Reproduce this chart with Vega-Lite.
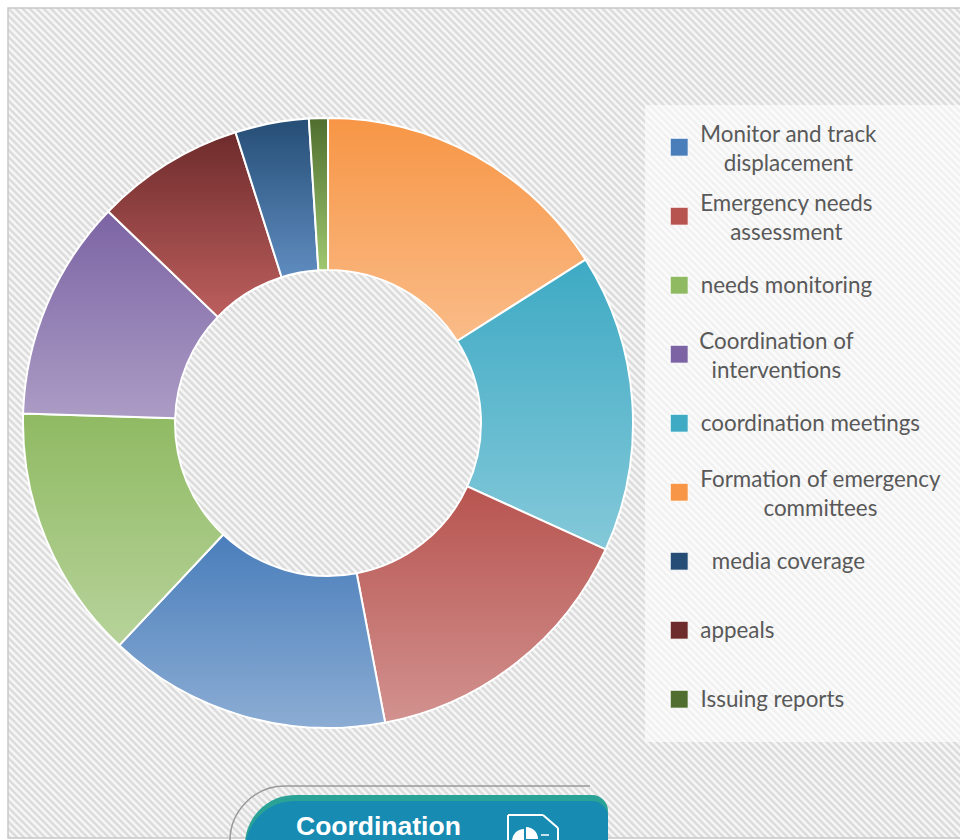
{
"$schema":"https://vega.github.io/schema/vega-lite/v6.json",
"width":960,"height":840,"padding":0,"autosize":"none","background":"#ffffff",
"config":{"view":{"stroke":null},"axis":{"disable":true}},
"data":{"values":[
{"activity":"Formation of emergency committees","share":16.0,"rank":1},
{"activity":"coordination meetings","share":15.8,"rank":2},
{"activity":"Emergency needs assessment","share":15.2,"rank":3},
{"activity":"Monitor and track displacement","share":15.0,"rank":4},
{"activity":"needs monitoring","share":13.5,"rank":5},
{"activity":"Coordination of interventions","share":11.7,"rank":6},
{"activity":"appeals","share":7.9,"rank":7},
{"activity":"media coverage","share":3.9,"rank":8},
{"activity":"Issuing reports","share":1.0,"rank":9}
]},
"layer":[
{"data":{"values":[{}]},"mark":{"type":"rect","fill":"#f6f6f6"},"encoding":{"x":{"datum":8,"type":"quantitative","scale":{"domain":[0,960]}},"x2":{"datum":960},"y":{"datum":8,"type":"quantitative","scale":{"domain":[840,0]}},"y2":{"datum":838}}},
{"data":{"values":[{}]},"mark":{"type":"rule","clip":true,"stroke":"#dcdcdc","strokeWidth":1400,"strokeDash":[2.5,2.5]},"encoding":{"x":{"datum":0,"type":"quantitative","scale":{"domain":[0,960]}},"x2":{"datum":960},"y":{"datum":900,"type":"quantitative","scale":{"domain":[840,0]}},"y2":{"datum":-60}}},
{"data":{"values":[{}]},"mark":{"type":"rect","fill":"#ffffff"},"encoding":{"x":{"datum":0,"type":"quantitative","scale":{"domain":[0,960]}},"x2":{"datum":8},"y":{"datum":0,"type":"quantitative","scale":{"domain":[840,0]}},"y2":{"datum":840}}},
{"data":{"values":[{}]},"mark":{"type":"rect","fill":"#ffffff"},"encoding":{"x":{"datum":0,"type":"quantitative","scale":{"domain":[0,960]}},"x2":{"datum":960},"y":{"datum":0,"type":"quantitative","scale":{"domain":[840,0]}},"y2":{"datum":8}}},
{"data":{"values":[{}]},"mark":{"type":"rect","fill":"#ffffff"},"encoding":{"x":{"datum":0,"type":"quantitative","scale":{"domain":[0,960]}},"x2":{"datum":960},"y":{"datum":838,"type":"quantitative","scale":{"domain":[840,0]}},"y2":{"datum":840}}},
{"data":{"values":[{}]},"mark":{"type":"rect","fill":null,"stroke":"#c8c8c8","strokeWidth":1.5},"encoding":{"x":{"datum":8,"type":"quantitative","scale":{"domain":[0,960]}},"x2":{"datum":962},"y":{"datum":8,"type":"quantitative","scale":{"domain":[840,0]}},"y2":{"datum":838}}},
{"data":{"values":[{}]},"mark":{"type":"rect","fill":"#ffffff","opacity":0.6},"encoding":{"x":{"datum":645,"type":"quantitative","scale":{"domain":[0,960]}},"x2":{"datum":960},"y":{"datum":105,"type":"quantitative","scale":{"domain":[840,0]}},"y2":{"datum":742}}},
{"mark":{"type":"arc","radius":305,"radius2":153,"stroke":"#ffffff","strokeWidth":2},
"encoding":{
"x":{"datum":328,"type":"quantitative","scale":{"domain":[0,960]}},
"y":{"datum":423,"type":"quantitative","scale":{"domain":[840,0]}},
"theta":{"field":"share","type":"quantitative","stack":true},
"order":{"field":"rank","type":"quantitative"},
"fill":{"field":"activity","type":"nominal","scale":{
"domain":["Monitor and track displacement","Emergency needs assessment","needs monitoring","Coordination of interventions","coordination meetings","Formation of emergency committees","media coverage","appeals","Issuing reports"],
"range":["#4a7ebb","#b85450","#8fba62","#7c64a4","#3eaac4","#f79646","#254d75","#6e2b2b","#4f6e2f"]},
"legend":{"title":null,"orient":"none","legendX":668,"legendY":136,"columns":1,"gridAlign":"all","rowPadding":17,"symbolType":"square","symbolSize":324,"symbolStrokeColor":"#ffffff","symbolStrokeWidth":1,"labelFont":"Lato","labelFontSize":22.4,"labelColor":"#595959","labelOffset":10,"labelLimit":400,"labelAlign":"center",
"labelExpr":"{'Monitor and track displacement':['Monitor and track','displacement'],'Emergency needs assessment':['Emergency needs','assessment'],'Coordination of interventions':['Coordination of','interventions'],'Formation of emergency committees':['Formation of emergency','committees']}[datum.label] || datum.label",
"encode":{
"labels":{"update":{"lineHeight":{"value":29},
"dx":{"signal":"{'Monitor and track displacement':88,'Emergency needs assessment':86,'needs monitoring':86,'Coordination of interventions':76,'coordination meetings':110,'Formation of emergency committees':120,'media coverage':88,'appeals':37,'Issuing reports':72}[datum.value]"},
"dy":{"signal":"indexof(['Monitor and track displacement','Emergency needs assessment','Coordination of interventions','Formation of emergency committees'],datum.value)>=0?-12:1"}}}
}}}
}},
{"mark":{"type":"arc","radius":304,"radius2":154,"fill":{"gradient":"linear","x1":0,"y1":0,"x2":0,"y2":1,"stops":[{"offset":0,"color":"rgba(255,255,255,0)"},{"offset":1,"color":"rgba(255,255,255,0.36)"}]}},
"encoding":{
"x":{"datum":328,"type":"quantitative","scale":{"domain":[0,960]}},
"y":{"datum":423,"type":"quantitative","scale":{"domain":[840,0]}},
"theta":{"field":"share","type":"quantitative","stack":true},
"order":{"field":"rank","type":"quantitative"}}},
{"transform":[{"stack":"share","sort":[{"field":"rank"}],"as":["s0","s1"]},{"filter":"datum.rank==7"}],
"mark":{"type":"arc","radius":305,"radius2":153,"stroke":"#ffffff","strokeWidth":2,"fill":{"gradient":"linear","x1":0,"y1":0,"x2":0,"y2":1,"stops":[{"offset":0,"color":"#6e2b2b"},{"offset":1,"color":"#bc5f5e"}]}},
"encoding":{"x":{"datum":328,"type":"quantitative","scale":{"domain":[0,960]}},"y":{"datum":423,"type":"quantitative","scale":{"domain":[840,0]}},"theta":{"field":"s0","type":"quantitative","stack":null},"theta2":{"field":"s1"}}},
{"transform":[{"stack":"share","sort":[{"field":"rank"}],"as":["s0","s1"]},{"filter":"datum.rank==8"}],
"mark":{"type":"arc","radius":305,"radius2":153,"stroke":"#ffffff","strokeWidth":2,"fill":{"gradient":"linear","x1":0,"y1":0,"x2":0,"y2":1,"stops":[{"offset":0,"color":"#254d75"},{"offset":1,"color":"#5f8cc0"}]}},
"encoding":{"x":{"datum":328,"type":"quantitative","scale":{"domain":[0,960]}},"y":{"datum":423,"type":"quantitative","scale":{"domain":[840,0]}},"theta":{"field":"s0","type":"quantitative","stack":null},"theta2":{"field":"s1"}}},
{"transform":[{"stack":"share","sort":[{"field":"rank"}],"as":["s0","s1"]},{"filter":"datum.rank==9"}],
"mark":{"type":"arc","radius":305,"radius2":153,"stroke":"#ffffff","strokeWidth":2,"fill":{"gradient":"linear","x1":0,"y1":0,"x2":0,"y2":1,"stops":[{"offset":0,"color":"#4f6e2f"},{"offset":1,"color":"#9fc870"}]}},
"encoding":{"x":{"datum":328,"type":"quantitative","scale":{"domain":[0,960]}},"y":{"datum":423,"type":"quantitative","scale":{"domain":[840,0]}},"theta":{"field":"s0","type":"quantitative","stack":null},"theta2":{"field":"s1"}}},
{"data":{"values":[{}]},"mark":{"type":"rule","stroke":"#9a9a9a","strokeWidth":1.5},"encoding":{"x":{"datum":285,"type":"quantitative","scale":{"domain":[0,960]}},"x2":{"datum":590},"y":{"datum":786,"type":"quantitative","scale":{"domain":[840,0]}}}},
{"data":{"values":[{}]},"mark":{"type":"arc","radius":55,"radius2":55,"theta":-1.6,"theta2":0,"fill":null,"stroke":"#9a9a9a","strokeWidth":1.5},"encoding":{"x":{"datum":285,"type":"quantitative","scale":{"domain":[0,960]}},"y":{"datum":841,"type":"quantitative","scale":{"domain":[840,0]}}}},
{"data":{"values":[{}]},"mark":{"type":"rect","fill":"#2aa296","cornerRadiusTopLeft":50,"cornerRadiusTopRight":16},"encoding":{"x":{"datum":245,"type":"quantitative","scale":{"domain":[0,960]}},"x2":{"datum":608},"y":{"datum":795,"type":"quantitative","scale":{"domain":[840,0]}},"y2":{"datum":900}}},
{"data":{"values":[{}]},"mark":{"type":"rect","fill":"#188bb3","cornerRadiusTopLeft":50,"cornerRadiusTopRight":16},"encoding":{"x":{"datum":245,"type":"quantitative","scale":{"domain":[0,960]}},"x2":{"datum":608},"y":{"datum":801,"type":"quantitative","scale":{"domain":[840,0]}},"y2":{"datum":900}}},
{"data":{"values":[{"caption":"Coordination"}]},"mark":{"type":"text","font":"Liberation Sans","fontWeight":"bold","fontSize":26.5,"fill":"#ffffff","align":"left","baseline":"alphabetic"},"encoding":{"text":{"field":"caption"},"x":{"datum":296,"type":"quantitative","scale":{"domain":[0,960]}},"y":{"datum":835,"type":"quantitative","scale":{"domain":[840,0]}}}},
{"data":{"values":[{}]},"mark":{"type":"rule","stroke":"#ffffff","strokeWidth":2},"encoding":{"x":{"datum":508,"type":"quantitative","scale":{"domain":[0,960]}},"x2":{"datum":543},"y":{"datum":815,"type":"quantitative","scale":{"domain":[840,0]}}}},
{"data":{"values":[{}]},"mark":{"type":"rule","stroke":"#ffffff","strokeWidth":2},"encoding":{"x":{"datum":508,"type":"quantitative","scale":{"domain":[0,960]}},"y":{"datum":815,"type":"quantitative","scale":{"domain":[840,0]}},"y2":{"datum":840}}},
{"data":{"values":[{}]},"mark":{"type":"rule","stroke":"#ffffff","strokeWidth":2},"encoding":{"x":{"datum":543,"type":"quantitative","scale":{"domain":[0,960]}},"x2":{"datum":558},"y":{"datum":815,"type":"quantitative","scale":{"domain":[840,0]}},"y2":{"datum":828}}},
{"data":{"values":[{}]},"mark":{"type":"rule","stroke":"#ffffff","strokeWidth":2},"encoding":{"x":{"datum":558,"type":"quantitative","scale":{"domain":[0,960]}},"y":{"datum":828,"type":"quantitative","scale":{"domain":[840,0]}},"y2":{"datum":840}}},
{"data":{"values":[{}]},"mark":{"type":"arc","radius":12,"theta":1.57,"theta2":6.28,"fill":"#ffffff"},"encoding":{"x":{"datum":524,"type":"quantitative","scale":{"domain":[0,960]}},"y":{"datum":841,"type":"quantitative","scale":{"domain":[840,0]}}}},
{"data":{"values":[{}]},"mark":{"type":"arc","radius":12,"theta":0,"theta2":1.57,"fill":"#ffffff"},"encoding":{"x":{"datum":526,"type":"quantitative","scale":{"domain":[0,960]}},"y":{"datum":839,"type":"quantitative","scale":{"domain":[840,0]}}}},
{"data":{"values":[{}]},"mark":{"type":"rule","stroke":"#ffffff","strokeWidth":1.5},"encoding":{"x":{"datum":541,"type":"quantitative","scale":{"domain":[0,960]}},"x2":{"datum":549},"y":{"datum":835,"type":"quantitative","scale":{"domain":[840,0]}}}}
]
}
